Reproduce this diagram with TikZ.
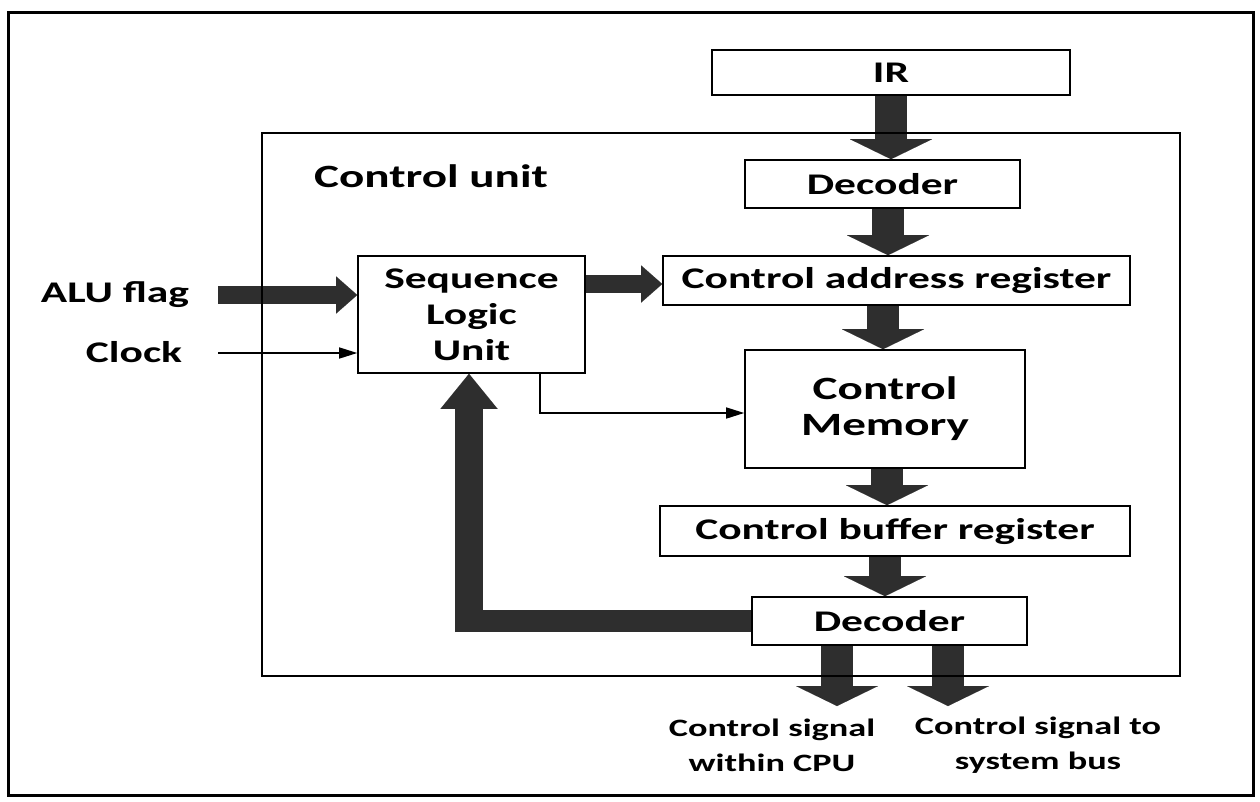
\documentclass[tikz,border=0pt]{standalone}
\usepackage{fontspec}
\setmainfont{Carlito}[FakeStretch=1.45]
\usetikzlibrary{arrows.meta}
\tikzset{
  txt/.style={font=\bfseries\fontsize{30}{36}\selectfont, inner sep=0pt},
  bigtxt/.style={font=\bfseries\fontsize{32.5}{36}\selectfont},
  small/.style={font=\bfseries\fontsize{25}{35}\selectfont, inner sep=0pt, align=center},
  box/.style={txt, draw, line width=1.6pt, fill=white, align=center},
  varrow/.style={line width=32pt, draw=black!82, -{Triangle[width=82pt,length=20pt,line width=0.01pt]}},
  harrow/.style={line width=18pt, draw=black!82, -{Triangle[width=37pt,length=21pt,line width=0.01pt]}},
  thin/.style={line width=1.5pt, -{Triangle[width=11pt,length=18pt]}},
}
\begin{document}
\begin{tikzpicture}[x=1pt,y=-1pt]
\useasboundingbox (0,0) rectangle (1260,801);
\fill[white] (0,0) rectangle (1260,801);
% boxes
\node[box, minimum width=358, minimum height=45] (ir) at (891,72.5) {IR};
\node[box, minimum width=275, minimum height=48] (dec1) at (882.5,184) {Decoder};
\node[box, minimum width=467, minimum height=49] (car) at (896.5,280.5) {Control address register};
\node[box, bigtxt, minimum width=280, minimum height=118] (cm) at (885,409) {Control\\Memory};
\node[box, minimum width=470, minimum height=50] (cbr) at (895,531) {Control buffer register};
\node[box, minimum width=275, minimum height=48] (dec2) at (889.5,621) {Decoder};
\node[box, minimum width=227, minimum height=117] (slu) at (471.5,314.5) {Sequence\\Logic\\Unit};
% labels
\node[txt, bigtxt, anchor=base] (cul) at (431,187) {Control unit};
\node[txt, anchor=base] (alu) at (115,302) {ALU flag};
\node[txt, anchor=base] (clk) at (134,362) {Clock};
% vertical block arrows
\coordinate (a1) at (891,0);
\coordinate (a2) at (888,0);
\coordinate (a3) at (883,0);
\coordinate (a4) at (887,0);
\coordinate (a5) at (885,0);
\draw[varrow] (ir.south -| a1) -- (dec1.north -| a1);
\draw[varrow] (dec1.south -| a2) -- (car.north -| a2);
\draw[varrow] (car.south -| a3) -- (cm.north -| a3);
\draw[varrow] (cm.south -| a4) -- (cbr.north -| a4);
\draw[varrow] (cbr.south -| a5) -- (dec2.north -| a5);
% outputs
\coordinate (o1) at (837,706);
\coordinate (o2) at (948,706);
\draw[varrow] (dec2.south -| o1) -- (o1);
\draw[varrow] (dec2.south -| o2) -- (o2);
\node[small] (l1) at (772,745) {Control signal\\within CPU};
\node[small] (l2) at (1038,745) {Control signal to\\system bus};
% horizontal arrows
\coordinate (aluS) at (218,295);
\draw[harrow] (aluS) -- (aluS -| slu.west);
\coordinate (clkS) at (218,353);
\draw[thin] (clkS) -- (clkS -| slu.west);
\coordinate (s1) at ([yshift=30.5pt]slu.east);
\draw[harrow] (s1) -- (s1 -| car.west);
% thin line SLU -> CM
\coordinate (t1) at ([xshift=68.5pt]slu.south);
\coordinate (t2) at ([yshift=-4pt]cm.west);
\draw[thin] (t1) |- (t2);
% feedback
\coordinate (fbx) at (469,0);
\coordinate (fbc) at (dec2.west -| fbx);
\draw[line width=22pt, draw=black!82] (dec2.west) -- ([xshift=-14pt]fbc);
\draw[line width=28pt, draw=black!82, -{Triangle[width=57pt,length=35pt,line width=0.01pt]}] ([yshift=-11pt]fbc) -- (slu.south -| fbx);
% frames
\draw[line width=2.4pt] (262,133) rectangle (1180,676);
\draw[line width=3pt] (8,12) rectangle (1253,795);
\end{tikzpicture}
\end{document}
